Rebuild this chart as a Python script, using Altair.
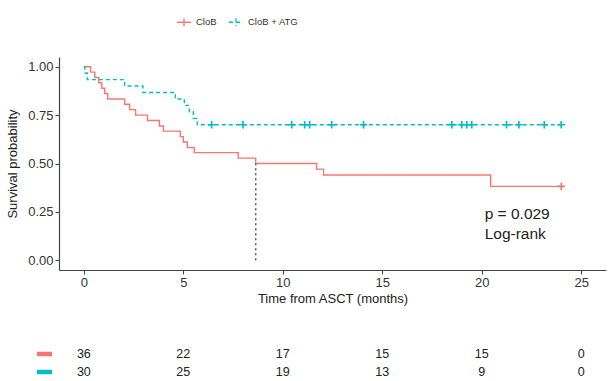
import altair as alt
import pandas as pd

# Kaplan-Meier step curves (months, survival probability)
clob_time = [0, 0.34, 0.55, 0.75, 0.9, 1.05, 1.2, 2.05, 2.3, 2.6, 3.2, 3.8, 4.0,
             4.85, 5.0, 5.2, 5.55, 7.76, 8.64, 11.7, 12.05, 20.45, 24.0]
clob_surv = [1.0, 0.972, 0.944, 0.917, 0.889, 0.861, 0.833, 0.806, 0.778, 0.75,
             0.722, 0.694, 0.667, 0.639, 0.611, 0.583, 0.556, 0.528, 0.5, 0.471,
             0.441, 0.382, 0.382]

atg_time = [0, 0.05, 0.17, 2.05, 2.97, 4.6, 5.05, 5.3, 5.5, 5.7, 24.0]
atg_surv = [1.0, 0.967, 0.933, 0.9, 0.867, 0.833, 0.8, 0.767, 0.733, 0.7, 0.7]

# Censoring times
clob_censor = [24.0]
atg_censor = [6.42, 8.0, 10.45, 11.1, 11.35, 12.46, 14.06, 18.5, 19.0, 19.25,
              19.5, 21.25, 21.87, 23.15, 24.0]

# Number at risk table
risk_times = [0, 5, 10, 15, 20, 25]
clob_risk = [36, 22, 17, 15, 15, 0]
atg_risk = [30, 25, 19, 13, 9, 0]

groups = ["CloB", "CloB + ATG"]
colors = ["#F8766D", "#00BFC4"]
pval_lines = ["p = 0.029", "Log-rank"]
PVAL_AT = (20.15, 0.238)

FONT = "Liberation Sans"
X_DOMAIN = [-1.25, 26.25]
Y_DOMAIN = [-0.05, 1.05]
PLOT_W, PLOT_H = 547, 213


def surv_at(times, survs, t):
    s = survs[0]
    for ti, si in zip(times, survs):
        if ti <= t:
            s = si
    return s


curve = pd.concat([
    pd.DataFrame({"time": clob_time, "surv": clob_surv, "group": groups[0]}),
    pd.DataFrame({"time": atg_time, "surv": atg_surv, "group": groups[1]}),
])
censor = pd.concat([
    pd.DataFrame({"time": clob_censor,
                  "surv": [surv_at(clob_time, clob_surv, t) for t in clob_censor],
                  "group": groups[0]}),
    pd.DataFrame({"time": atg_censor,
                  "surv": [surv_at(atg_time, atg_surv, t) for t in atg_censor],
                  "group": groups[1]}),
])
median_time = next(t for t, s in zip(clob_time, clob_surv) if s <= 0.5)
median = pd.DataFrame({"time": [median_time], "y0": [0.0], "y1": [0.5]})
risk = pd.concat([
    pd.DataFrame({"time": risk_times, "n": clob_risk, "group": groups[0]}),
    pd.DataFrame({"time": risk_times, "n": atg_risk, "group": groups[1]}),
])

PLUS = "M-1,0L1,0M0,-1L0,1"
LEGEND_SYM = "M-1,0L1,0M0,-0.55L0,0.55"

xscale = alt.Scale(domain=X_DOMAIN, nice=False, zero=False)
yscale = alt.Scale(domain=Y_DOMAIN, nice=False, zero=False)
cscale = alt.Scale(domain=groups, range=colors)

x_enc = alt.X("time:Q", scale=xscale,
              axis=alt.Axis(values=risk_times, title="Time from ASCT (months)"))
y_enc = alt.Y("surv:Q", scale=yscale,
              axis=alt.Axis(values=[0, 0.25, 0.5, 0.75, 1.0], format=".2f",
                            title="Survival probability"))

legend = alt.Legend(orient="none", legendX=117, legendY=-43, direction="horizontal",
                    title=None, symbolType=LEGEND_SYM, symbolSize=200,
                    symbolStrokeWidth=1.3, labelFontSize=9.5, labelFont=FONT,
                    labelColor="#333", columnPadding=9, labelOffset=4)

lines = alt.Chart(curve).mark_line(interpolate="step-after", strokeWidth=1.4).encode(
    x=x_enc, y=y_enc,
    color=alt.Color("group:N", scale=cscale, legend=legend),
    strokeDash=alt.StrokeDash("group:N",
                              scale=alt.Scale(domain=groups, range=[[1, 0], [4, 3]]),
                              legend=legend),
)

marks = alt.Chart(censor).mark_point(shape=PLUS, size=55, strokeWidth=1.7,
                                     filled=False, opacity=1).encode(
    x="time:Q", y="surv:Q",
    color=alt.Color("group:N", scale=cscale, legend=None),
)

median_rule = alt.Chart(median).mark_rule(color="#555", strokeWidth=1.5,
                                          strokeDash=[2, 3]).encode(
    x="time:Q", y="y0:Q", y2="y1:Q",
)

pval_text = alt.Chart(median).mark_text(align="left", baseline="middle", fontSize=15.5,
                                        lineHeight=20, font=FONT, color="#222").encode(
    x=alt.datum(PVAL_AT[0]),
    y=alt.datum(PVAL_AT[1]),
    text=alt.value(pval_lines),
)

main = alt.layer(lines, marks, median_rule, pval_text).properties(
    width=PLOT_W, height=PLOT_H)

row_y = alt.Y("group:N", scale=alt.Scale(domain=groups, type="point", padding=0.5),
              axis=None)
risk_x = alt.X("time:Q", scale=xscale, axis=None)

risk_text = alt.Chart(risk).mark_text(fontSize=12.5, font=FONT, color="#222").encode(
    x=risk_x, y=row_y, text="n:Q")
risk_keys = alt.Chart(pd.DataFrame({"group": groups})).mark_rule(
    strokeWidth=4.5).encode(
    x=alt.value(-22), x2=alt.value(-7), y=row_y,
    color=alt.Color("group:N", scale=cscale, legend=None))

table = alt.layer(risk_keys, risk_text).properties(width=PLOT_W, height=36)

chart = alt.vconcat(main, table, spacing=40).properties(
    padding={"left": 6, "top": 14, "right": 1, "bottom": 0}
).configure_view(stroke=None).configure_axis(
    grid=False, domainColor="#444", domainWidth=1.2, tickColor="#444", tickSize=4,
    labelFont=FONT, labelFontSize=13, labelColor="#333", labelPadding=2,
    titleFont=FONT, titleFontSize=13, titleFontWeight="normal", titleColor="#222",
).configure_axisY(titlePadding=8).configure_axisX(titlePadding=3)

chart.save("out.html", embed_options={"renderer": "svg", "actions": False})
